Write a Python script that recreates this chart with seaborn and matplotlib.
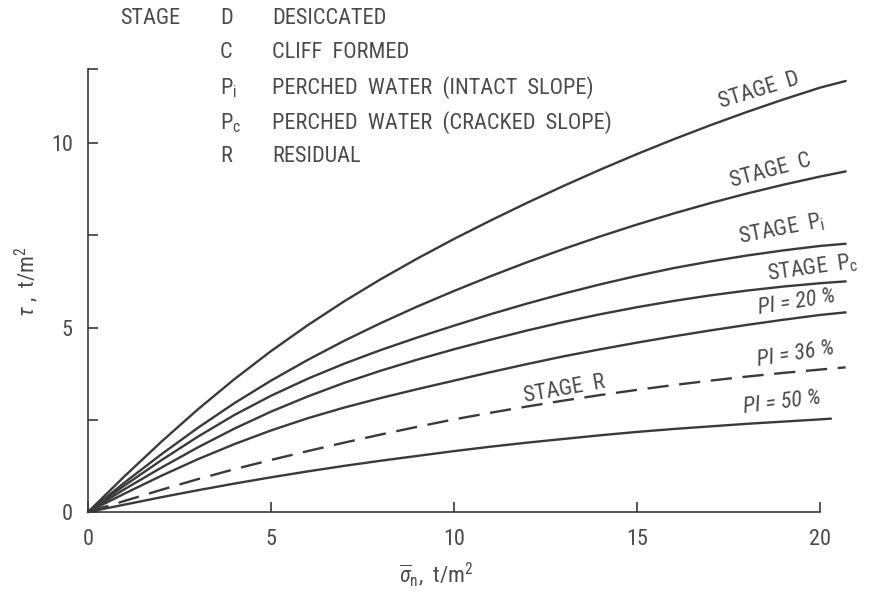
import matplotlib
matplotlib.use("Agg")
import matplotlib.pyplot as plt
from matplotlib import font_manager
import seaborn as sns
import pandas as pd

# ---------------- data ----------------
sigma_n = [0, 1, 2, 3, 4, 5, 6, 7, 8, 9, 10, 11, 12, 13, 14, 15, 16, 17, 18, 19, 20, 20.7]
stage_d = [0, 0.97, 1.90, 2.78, 3.60, 4.36, 5.06, 5.71, 6.31, 6.87, 7.40, 7.90, 8.38, 8.84,
           9.28, 9.70, 10.10, 10.48, 10.84, 11.18, 11.50, 11.68]
stage_c = [0, 0.80, 1.56, 2.28, 2.95, 3.56, 4.12, 4.64, 5.12, 5.57, 5.99, 6.39, 6.77, 7.13,
           7.47, 7.79, 8.09, 8.37, 8.63, 8.87, 9.09, 9.23]
stage_pi = [0, 0.72, 1.40, 2.04, 2.63, 3.15, 3.61, 4.02, 4.39, 4.73, 5.05, 5.36, 5.65, 5.92,
            6.17, 6.40, 6.61, 6.79, 6.95, 7.09, 7.21, 7.27]
stage_pc = [0, 0.62, 1.20, 1.75, 2.26, 2.72, 3.13, 3.50, 3.83, 4.13, 4.41, 4.67, 4.92, 5.15,
            5.36, 5.55, 5.72, 5.87, 6.00, 6.11, 6.20, 6.25]
pi_20 = [0, 0.50, 0.98, 1.43, 1.84, 2.21, 2.54, 2.83, 3.09, 3.33, 3.56, 3.79, 4.01, 4.22,
         4.41, 4.59, 4.76, 4.92, 5.07, 5.21, 5.34, 5.41]
stage_r = [0, 0.30, 0.60, 0.89, 1.16, 1.41, 1.65, 1.88, 2.10, 2.31, 2.51, 2.69, 2.86, 3.02,
           3.17, 3.31, 3.44, 3.56, 3.67, 3.77, 3.86, 3.92]
sigma_n_50 = [0, 1, 2, 3, 4, 5, 6, 7, 8, 9, 10, 11, 12, 13, 14, 15, 16, 17, 18, 19, 20, 20.3]
pi_50 = [0, 0.20, 0.40, 0.59, 0.77, 0.94, 1.10, 1.25, 1.39, 1.52, 1.65, 1.77, 1.88, 1.98,
         2.08, 2.17, 2.25, 2.32, 2.39, 2.45, 2.51, 2.53]

x_ticks = [0, 5, 10, 15, 20]
x_tick_labels = ["0", "5", "10", "15", "20"]
y_ticks = [0, 2.5, 5, 7.5, 10, 12]
y_tick_labels = ["0", "", "5", "", "10", ""]

legend_codes = ["D", "C", r"P$_\mathrm{i}$", r"P$_\mathrm{c}$", "R"]
legend_texts = ["DESICCATED", "CLIFF  FORMED", "PERCHED  WATER  (INTACT  SLOPE)",
                "PERCHED  WATER  (CRACKED  SLOPE)", "RESIDUAL"]

# ---------------- style ----------------
sns.set_theme(style="white")

entries = font_manager.fontManager.ttflist
cond_stretch = ("condensed", "semi-condensed", "extra-condensed", "ultra-condensed")
FAM, STR = "Liberation Sans", "normal"
found = False
for pref in ["Liberation Sans Narrow", "Roboto Condensed", "DejaVu Sans Condensed",
             "Noto Sans Condensed", "Open Sans Condensed"]:
    for f in entries:
        if f.name == pref and f.style == "normal":
            FAM, STR, found = f.name, "normal", True
            break
    if found:
        break
if not found:
    for base in ["Roboto", "DejaVu Sans", "Noto Sans", "Open Sans", "Liberation Sans"]:
        for f in entries:
            if f.name == base and str(f.stretch) in cond_stretch and f.style == "normal":
                FAM, STR, found = f.name, str(f.stretch), True
                break
        if found:
            break

plt.rcParams["font.family"] = [FAM, "DejaVu Sans"]
plt.rcParams["font.stretch"] = STR
plt.rcParams["mathtext.fontset"] = "custom"
plt.rcParams["mathtext.rm"] = f"{FAM}:stretch={STR}"
plt.rcParams["mathtext.it"] = f"{FAM}:italic:stretch={STR}"
plt.rcParams["mathtext.sf"] = f"{FAM}:stretch={STR}"

LINE = "#3a3a3a"
TXT = "#4a4a4a"
FS = 16 if found else 13

W_PX = 21.2 * 36.6
H_PX = 12.6 * 36.9
fig = plt.figure(figsize=(8.69, 5.94), dpi=100)
fig.patch.set_facecolor("white")
ax = fig.add_axes([88 / 869, 82 / 594, W_PX / 869, H_PX / 594])
ax.set_facecolor("white")

series = [
    ("STAGE D", sigma_n, stage_d, "-"),
    ("STAGE C", sigma_n, stage_c, "-"),
    ("STAGE Pi", sigma_n, stage_pi, "-"),
    ("STAGE Pc", sigma_n, stage_pc, "-"),
    ("PI = 20 %", sigma_n, pi_20, "-"),
    ("STAGE R", sigma_n, stage_r, "--"),
    ("PI = 50 %", sigma_n_50, pi_50, "-"),
]
for name, xs, ys, ls in series:
    df = pd.DataFrame({"x": xs, "y": ys})
    sns.lineplot(data=df, x="x", y="y", ax=ax, color=LINE, linewidth=1.7,
                 linestyle=ls, sort=False)
for ln in ax.lines:
    ln.set_clip_on(False)
    ln.set_solid_joinstyle("round")
    if ln.get_linestyle() == "--":
        ln.set_dashes((9, 4.5))

ax.set_xlim(0, 21.2)
ax.set_ylim(0, 12.6)
ax.set_xticks(x_ticks)
ax.set_xticklabels(x_tick_labels)
ax.set_yticks(y_ticks)
ax.set_yticklabels(y_tick_labels)
ax.tick_params(left=True, bottom=True, direction="in", length=7, width=1.2,
               colors=LINE, labelcolor=TXT, labelsize=FS, pad=11)
ax.tick_params(axis="x", pad=12)
for s in ["top", "right"]:
    ax.spines[s].set_visible(False)
for s in ["left", "bottom"]:
    ax.spines[s].set_color(LINE)
    ax.spines[s].set_linewidth(1.2)
ax.spines["left"].set_bounds(0, 12)
ax.spines["bottom"].set_bounds(0, 20)

ax.set_xlabel(r"$\overline{\sigma}_\mathrm{n}$,  t/m$^2$", fontsize=FS, color=TXT)
ax.set_ylabel(r"$\tau$ ,  t/m$^2$", fontsize=FS, color=TXT)
ax.xaxis.set_label_coords((436 - 88) / W_PX, -(575 - 512) / H_PX)
ax.xaxis.label.set_va("center")
ax.yaxis.set_label_coords((27 - 88) / W_PX, (512 - 282) / H_PX)
ax.yaxis.label.set_va("center")


def px(xp, yp):
    return ((xp - 88) / 36.6, (512 - yp) / 36.9)


# curve labels
labels = [
    ("STAGE  D", 759, 91, 17, "normal"),
    ("STAGE  C", 771, 171, 15, "normal"),
    (r"STAGE  P$_\mathrm{i}$", 782, 229, 11, "normal"),
    (r"STAGE  P$_\mathrm{c}$", 813, 268, 8, "normal"),
    ("PI = 20 %", 797, 302, 9, "italic"),
    ("PI = 36 %", 796, 354, 9, "italic"),
    ("STAGE  R", 565, 389, 10, "normal"),
    ("PI = 50 %", 782, 403, 7, "italic"),
]
for t, xp, yp, rot, st in labels:
    xd, yd = px(xp, yp)
    ax.text(xd, yd, t, rotation=rot, ha="center", va="center", fontsize=FS,
            color=TXT, style=st, rotation_mode="anchor")

# legend block at top
fig.text(120 / 869, 1 - 18 / 594, "STAGE", fontsize=FS, color=TXT, va="center", ha="left")
rows_y = [18, 53, 88, 123, 157]
for code, txt, yp in zip(legend_codes, legend_texts, rows_y):
    fig.text(220 / 869, 1 - yp / 594, code, fontsize=FS, color=TXT, va="center", ha="left")
    fig.text(272 / 869, 1 - yp / 594, txt, fontsize=FS, color=TXT, va="center", ha="left")

fig.savefig("out.png", dpi=100, facecolor="white")
